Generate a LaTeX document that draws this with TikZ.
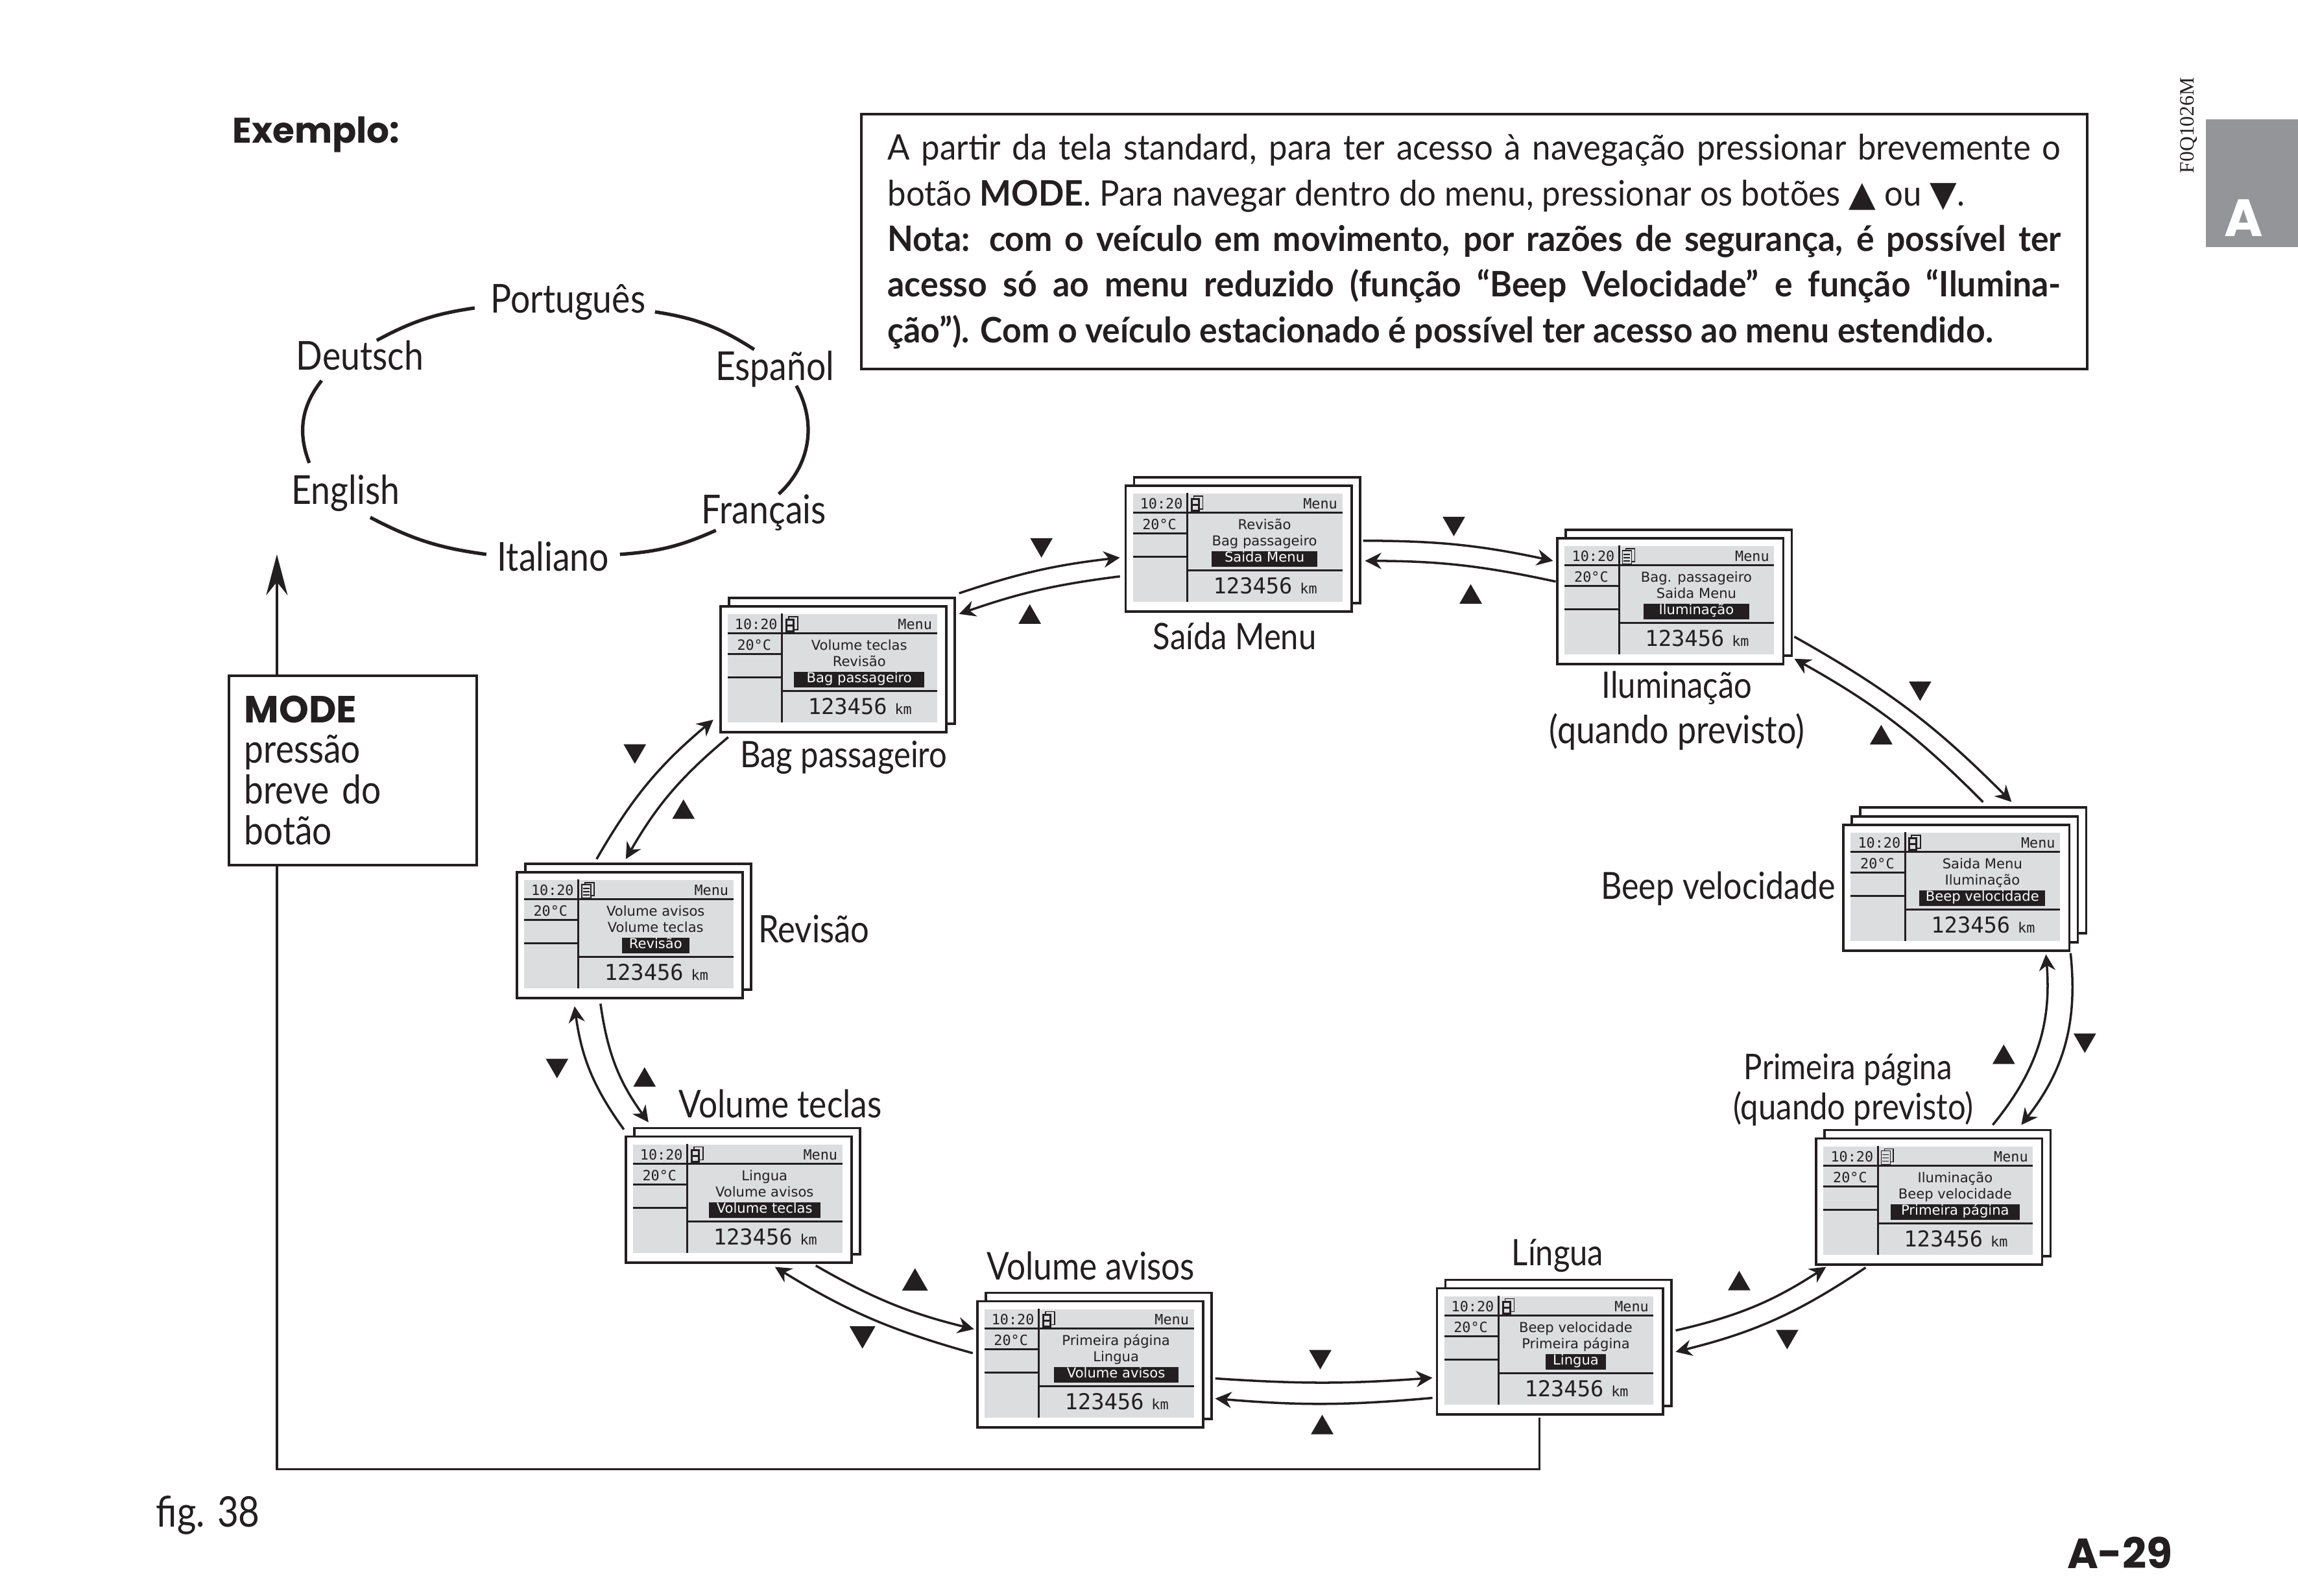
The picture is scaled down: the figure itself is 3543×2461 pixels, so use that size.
\documentclass[tikz,border=0pt]{standalone}
\usepackage{fontspec}
\usetikzlibrary{arrows.meta,shapes.geometric}
\setmainfont{Lato}
\newfontfamily\labelfont[FakeStretch=0.87]{Lato}
\newfontfamily\notefont[FakeStretch=0.94,BoldFeatures={FakeStretch=0.955}]{Lato}
\newfontfamily\headfont{Poppins}
\newfontfamily\codefont{Liberation Serif}
\newfontfamily\lcdfont{DejaVu Sans}
\newfontfamily\lcdmonofont{DejaVu Sans Mono}
\newfontfamily\symfont{DejaVu Sans}
\definecolor{inkblack}{HTML}{231F20}
\definecolor{lcdgray}{HTML}{DCDDDE}
\definecolor{tabgray}{HTML}{939598}

\newcommand{\iconfloppy}{
  \draw[icon] (107,18) rectangle (121,38);
  \fill[inkblack] (102,21) rectangle (116,42);
  \fill[lcdgray] (105,24) rectangle (113,30);
  \fill[lcdgray] (105,33) rectangle (113,39);
}
\newcommand{\iconlist}{
  \draw[icon] (107,18) rectangle (121,38);
  \draw[icon, fill=lcdgray] (102,21) rectangle (116,42);
  \draw[icon] (104,27) -- (114,27);
  \draw[icon] (104,32) -- (114,32);
  \draw[icon] (104,37) -- (114,37);
}
% [width of the bar], x, y, name, line 1, line 2, selected line, icon
\newcommand{\lcdscreen}[8][]{
  \begin{scope}[shift={(#2,#3)}]
    \node[screenbox, anchor=north west] (#4back) at (13,-13) {};
    \node[screenbox, anchor=north west] (#4) at (0,0) {};
    \fill[lcdgray] (13,14) rectangle (336,181);
    #8
    \draw[lcdline] (97,13) -- (97,181);
    \draw[lcdline] (13,44) -- (336,44);
    \draw[lcdline] (13,76) -- (97,76);
    \draw[lcdline] (13,112) -- (97,112);
    \draw[lcdline] (97,133) -- (336,133);
    \node[lcdsmall] (#4time) at (57,38) {10:20};
    \node[lcdsmall] (#4temp) at (54,70) {20°C};
    \node[lcdsmall, anchor=base east] (#4menu) at (329,38) {Menu};
    \node[lcdtext] (#4top) at (216,70) {#5};
    \node[lcdtext] (#4mid) at (216,95) {#6};
    \node[lcdsel, minimum width=#1] (#4sel) at (216,120) {#7};
    \node[lcdlarge] (#4count) at (198,169) {123456};
    \node[lcdsmall] (#4km) at (284,169) {km};
  \end{scope}
}

\begin{document}
\begin{tikzpicture}[
  x=0.01cm, y=-0.01cm, color=inkblack,
  screenbox/.style={draw, fill=white, line width=1.1pt, minimum width=3.48cm,
    minimum height=1.94cm, inner sep=0pt},
  lcdline/.style={line width=0.85pt},
  icon/.style={line width=0.5pt},
  lcdtext/.style={anchor=base, inner sep=0pt, font=\lcdfont\fontsize{6}{7}\selectfont},
  lcdsel/.style={anchor=base, fill=inkblack, text=white, inner sep=0pt,
    text height=0.17cm, text depth=0.07cm, font=\lcdfont\fontsize{6}{7}\selectfont},
  lcdsmall/.style={anchor=base, inner sep=0pt, font=\lcdmonofont\fontsize{6.2}{7}\selectfont},
  lcdlarge/.style={anchor=base, inner sep=0pt, font=\lcdmonofont\fontsize{9.6}{11}\selectfont},
  labeltext/.style={anchor=base, inner sep=0pt, align=center,
    font=\labelfont\fontsize{#1}{20}\selectfont},
  labeltext/.default=16,
  flow/.style={-{Stealth[length=2.5mm,width=2.5mm]}, line width=1pt},
  ring/.style={line width=1.5pt},
  triup/.style={regular polygon, regular polygon sides=3, fill, inner sep=0pt, minimum size=0.4cm},
  tridown/.style={triup, shape border rotate=180}
]
\fill[white] (0,0) rectangle (3543,2461);

\node[anchor=base west, inner sep=0pt, font=\headfont\bfseries\fontsize{15.6}{18}\selectfont]
  (example) at (358,221) {Exemplo:};

\node[draw, line width=1.1pt, anchor=north west, minimum width=18.9cm, minimum height=3.93cm,
  inner xsep=0.41cm, inner ysep=0pt, text width=18.08cm, align=justify,
  font=\notefont\fontsize{15.4}{20}\selectfont] (note) at (1326,174)
  {A partir da tela standard, para ter acesso à navegação pressionar brevemente o\linebreak
  botão \textbf{MODE}. Para navegar dentro do menu, pressionar os botões {\symfont▲} ou {\symfont▼}.\\
  \textbf{Nota: com o veículo em movimento, por razões de segurança, é possível ter\linebreak
  acesso só ao menu reduzido (função “Beep Velocidade” e função “Ilumina-\linebreak
  ção”). Com o veículo estacionado é possível ter acesso ao menu estendido.}};

\node[rotate=90, inner sep=0pt, anchor=base west,
  font=\codefont\fontsize{9}{10}\selectfont] (code) at (3383,268) {F0Q1026M};
\node[fill=tabgray, anchor=north west, minimum width=1.42cm, minimum height=1.97cm] (tab) at (3401,183) {};
\node[anchor=base, inner sep=0pt, text=white, font=\headfont\bfseries\fontsize{23}{26}\selectfont]
  (tabletter) at (3460,365) {A};

% language ring
\node[labeltext=17.5] (portugues) at (876,483) {Português};
\node[labeltext=17.5] (deutsch) at (555,571) {Deutsch};
\node[labeltext=17.5] (espanol) at (1195,587) {Español};
\node[labeltext=17.5] (english) at (533,778) {English};
\node[labeltext=17.5] (francais) at (1178,808) {Français};
\node[labeltext=17.5] (italiano) at (853,881) {Italiano};
\draw[ring] ([shift={(134,-2)}]portugues.base) to[bend left=12] ([shift={(-32,-48)}]espanol.base);
\draw[ring] ([shift={(33,8)}]espanol.base) to[bend left=38] ([shift={(23,-46)}]francais.base);
\draw[ring] ([shift={(-74,10)}]francais.base) to[bend left=10] ([shift={(103,-26)}]italiano.base);
\draw[ring] ([shift={(-103,-26)}]italiano.base) to[bend left=10] ([shift={(38,20)}]english.base);
\draw[ring] ([shift={(-56,-64)}]english.base) to[bend left=30] ([shift={(-59,16)}]deutsch.base);
\draw[ring] ([shift={(26,-46)}]deutsch.base) to[bend left=10] ([shift={(-144,-8)}]portugues.base);

% screens
\node[screenbox, anchor=north west] (beepbacktwo) at (2867,1243) {};
\lcdscreen[2.01cm]{1109}{933}{bag}{Volume teclas}{Revisão}{Bag passageiro}{\iconfloppy}
\lcdscreen[1.63cm]{1734}{747}{saida}{Revisão}{Bag passageiro}{Saida Menu}{\iconfloppy}
\lcdscreen[1.63cm]{2400}{828}{ilum}{Bag. passageiro}{Saida Menu}{Iluminação}{\iconlist}
\lcdscreen[1.94cm]{2841}{1270}{beep}{Saida Menu}{Iluminação}{Beep velocidade}{\iconfloppy}
\lcdscreen[1.99cm]{2799}{1754}{prim}{Iluminação}{Beep velocidade}{Primeira página}{\iconlist}
\lcdscreen[0.93cm]{2214}{1985}{lingua}{Beep velocidade}{Primeira página}{Lingua}{\iconfloppy}
\lcdscreen[1.92cm]{1505}{2005}{avisos}{Primeira página}{Lingua}{Volume avisos}{\iconfloppy}
\lcdscreen[1.72cm]{963}{1751}{teclas}{Lingua}{Volume avisos}{Volume teclas}{\iconfloppy}
\lcdscreen[1.04cm]{795}{1343}{revisao}{Volume avisos}{Volume teclas}{Revisão}{\iconlist}

\node[labeltext] (saidalabel) at (1904,1002) {Saída Menu};
\node[labeltext] (ilumlabel) at (2586,1077) {Iluminação};
\node[labeltext=17] (ilumnote) at (2586,1147) {(quando previsto)};
\node[labeltext=16.4, anchor=base east] (beeplabel) at (2831,1387) {Beep velocidade};
\node[labeltext=15.5] (primlabel) at (2850,1665) {Primeira página};
\node[labeltext] (primnote) at (2858,1727) {(quando previsto)};
\node[labeltext] (lingualabel) at (2402,1952) {Língua};
\node[labeltext=16.8] (avisoslabel) at (1682,1974) {Volume avisos};
\node[labeltext=16.8] (teclaslabel) at (1203,1724) {Volume teclas};
\node[labeltext=16.6, anchor=base west] (revisaolabel) at (1169,1454) {Revisão};
\node[labeltext] (baglabel) at (1301,1184) {Bag passageiro};

% button
\node[draw, line width=1.1pt, fill=white, anchor=north west, minimum width=3.82cm, minimum height=2.92cm,
  inner xsep=0.24cm, inner ysep=0pt, text width=3.34cm, align=left,
  font=\labelfont\fontsize{17.4}{17.8}\selectfont] (mode) at (351,1040)
  {{\headfont\bfseries\fontsize{16.6}{18}\selectfont MODE}\\pressão\\breve do\\botão};
\coordinate (modetip) at (427,855);
\coordinate (modelow) at (427,2266);
\draw[line width=1.1pt] ([shift={(-16,3)}]lingua.south) |- (modelow) -- (modelow |- mode.south);
\draw[-{Stealth[length=6.3mm,width=3.3mm]}, line width=1.1pt] (modelow |- mode.north) -- (modetip);

% screen to screen
\draw[flow] ([shift={(-51,-117)}]revisao.center) to[bend left=10] ([shift={(-185,78)}]bag.center);
\draw[flow] ([shift={(-162,105)}]bag.center) to[bend right=10] ([shift={(-6,-117)}]revisao.center);
\draw[flow] ([shift={(194,-117)}]bag.center) to[bend left=6] ([shift={(-183,14)}]saida.center);
\draw[flow] ([shift={(-183,43)}]saida.center) to[bend right=6] ([shift={(194,-85)}]bag.center);
\draw[flow] ([shift={(192,-12)}]saida.center) to[bend left=6] ([shift={(-181,-62)}]ilum.center);
\draw[flow] ([shift={(-177,-30)}]ilum.center) to[bend right=6] ([shift={(195,19)}]saida.center);
\draw[flow] ([shift={(191,55)}]ilum.center) to[bend left=8] ([shift={(85,-132)}]beep.center);
\draw[flow] ([shift={(41,-132)}]beep.center) to[bend right=8] ([shift={(191,89)}]ilum.center);
\draw[flow] ([shift={(176,101)}]beep.center) to[bend left=22] ([shift={(142,-118)}]prim.center);
\draw[flow] ([shift={(98,-118)}]prim.center) to[bend right=22] ([shift={(138,103)}]beep.center);
\draw[flow] ([shift={(-98,102)}]prim.center) to[bend left=10] ([shift={(194,1)}]lingua.center);
\draw[flow] ([shift={(194,-32)}]lingua.center) to[bend right=10] ([shift={(-159,101)}]prim.center);
\draw[flow] ([shift={(-181,72)}]lingua.center) to[bend left=5] ([shift={(193,53)}]avisos.center);
\draw[flow] ([shift={(193,22)}]avisos.center) to[bend right=4] ([shift={(-181,41)}]lingua.center);
\draw[flow] ([shift={(119,102)}]teclas.center) to[bend right=8] ([shift={(-179,-54)}]avisos.center);
\draw[flow] ([shift={(-181,-17)}]avisos.center) to[bend left=8] ([shift={(56,104)}]teclas.center);
\draw[flow] ([shift={(-45,106)}]revisao.center) to[bend right=14] ([shift={(-139,-119)}]teclas.center);
\draw[flow] ([shift={(-177,-108)}]teclas.center) to[bend left=14] ([shift={(-85,110)}]revisao.center);

% button marks
\node[tridown] (bagsaidadown) at (1606,840) {};
\node[triup] (bagsaidaup) at (1588,952) {};
\node[tridown] (saidailumdown) at (2242,807) {};
\node[triup] (saidailumup) at (2268,921) {};
\node[tridown] (ilumbeepdown) at (2961,1061) {};
\node[triup] (ilumbeepup) at (2901,1138) {};
\node[tridown] (revbagdown) at (979,1158) {};
\node[triup] (revbagup) at (1054,1253) {};
\node[triup] (beepprimup) at (3090,1631) {};
\node[tridown] (beepprimdown) at (3215,1604) {};
\node[tridown] (revteclasdown) at (859,1643) {};
\node[triup] (revteclasup) at (994,1666) {};
\node[triup, minimum size=0.46cm] (teclasavisosup) at (1411,1979) {};
\node[tridown, minimum size=0.46cm] (teclasavisosdown) at (1330,2057) {};
\node[tridown] (avisoslinguadown) at (2036,2092) {};
\node[triup] (avisoslinguaup) at (2039,2202) {};
\node[triup] (linguaprimup) at (2682,1980) {};
\node[tridown] (linguaprimdown) at (2756,2061) {};

\node[labeltext=18.5, anchor=base west] (figlabel) at (240,2355) {fig. 38};
\node[anchor=base west, inner sep=0pt, font=\headfont\bfseries\fontsize{18.5}{20}\selectfont]
  (pagenumber) at (3187,2419) {A-29};
\end{tikzpicture}
\end{document}
